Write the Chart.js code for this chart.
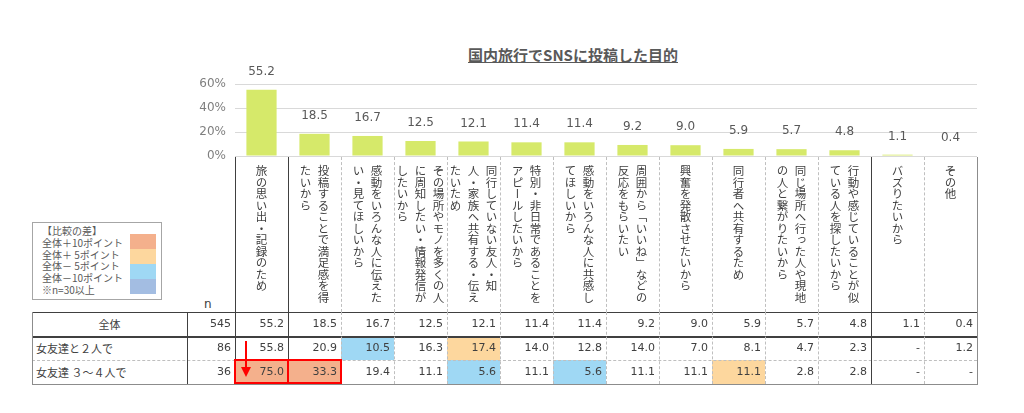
<!DOCTYPE html>
<html lang="ja">
<head>
<meta charset="utf-8">
<title>国内旅行でSNSに投稿した目的</title>
<script src="https://cdn.jsdelivr.net/npm/chart.js@4.4.1/dist/chart.umd.min.js"></script>
<style>
  html, body { margin: 0; padding: 0; background: #fff; }
  #wrap {
    position: relative; width: 1024px; height: 413px; overflow: hidden;
    font-family: "DejaVu Sans", "Noto Sans CJK JP", sans-serif; color: #404040;
  }
  #title {
    position: absolute; left: 373px; top: 46px; width: 400px; text-align: center;
    font: bold 15px "Noto Sans CJK JP", sans-serif; color: #595959;
    text-decoration: underline; line-height: 18px;
  }
  #chartBox { position: absolute; left: 170px; top: 50px; width: 810px; height: 140px; }
  .head {
    position: absolute; top: 157px; height: 155px; width: 53px;
    display: flex; justify-content: center; align-items: flex-start;
  }
  .head div {
    writing-mode: vertical-rl; white-space: pre; margin-top: 8px;
    font: 11.5px/18px "Noto Sans CJK JP", sans-serif; color: #404040;
  }
  .cell {
    position: absolute; height: 24px; line-height: 24px; font-size: 11px;
    box-sizing: border-box; padding: 0 4px; text-align: right; white-space: nowrap;
  }
  .rowlabel { font-family: "Noto Sans CJK JP", sans-serif; text-align: left; }
  .line { position: absolute; }
  #legend {
    position: absolute; left: 32px; top: 222px; width: 130px; height: 78px;
    border: 1px solid #a6a6a6; box-sizing: border-box; background: #fff;
    font: 10px/11.8px "Noto Sans CJK JP", sans-serif; color: #595959;
  }
  #legend .txt { position: absolute; left: 9px; top: 2px; white-space: pre; }
  #legend .sw { position: absolute; left: 97px; width: 26px; height: 15px; }
  #nlabel { position: absolute; left: 204px; top: 297px; font-size: 12px; color: #404040; }
</style>
</head>
<body>
<div id="wrap">
  <div id="title">国内旅行でSNSに投稿した目的</div>
  <div id="chartBox"><canvas id="purposeChart"></canvas></div>
  <div id="legend"></div>
  <div id="nlabel">n</div>
</div>
<script>
const categories = [
  "旅の思い出・記録のため",
  "投稿することで満足感を得\nたいから",
  "感動をいろんな人に伝えた\nい・見てほしいから",
  "その場所やモノを多くの人\nに周知したい・情報発信が\nしたいから",
  "同行していない友人・知\n人・家族へ共有する・伝え\nたいため",
  "特別・非日常であることを\nアピールしたいから",
  "感動をいろんな人に共感し\nてほしいから",
  "周囲から「いいね」などの\n反応をもらいたい",
  "興奮を発散させたいから",
  "同行者へ共有するため",
  "同じ場所へ行った人や現地\nの人と繋がりたいから",
  "行動や感じていることが似\nている人を探したいから",
  "バズりたいから",
  "その他"
];
const totalValues = [55.2, 18.5, 16.7, 12.5, 12.1, 11.4, 11.4, 9.2, 9.0, 5.9, 5.7, 4.8, 1.1, 0.4];
const twoFriendsValues = [55.8, 20.9, 10.5, 16.3, 17.4, 14.0, 12.8, 14.0, 7.0, 8.1, 4.7, 2.3, null, 1.2];
const groupFriendsValues = [75.0, 33.3, 19.4, 11.1, 5.6, 11.1, 5.6, 11.1, 11.1, 11.1, 2.8, 2.8, null, null];
const rowLabels = ["全体", "女友達と２人で", "女友達 ３～４人で"];
const rowCounts = [545, 86, 36];
const yTicks = [0, 20, 40, 60];

const wrap = document.getElementById("wrap");
const colLeft = 235;
const colW = 53;
const colX = categories.map((c, i) => colLeft + colW * i);
const tableRight = colLeft + colW * categories.length;

// Bar labels above each bar
const barLabels = {
  id: "barLabels",
  afterDatasetsDraw(chart) {
    const ctx = chart.ctx;
    const meta = chart.getDatasetMeta(0);
    ctx.save();
    ctx.font = "12px 'DejaVu Sans'";
    ctx.fillStyle = "#595959";
    ctx.textAlign = "center";
    ctx.textBaseline = "middle";
    meta.data.forEach((bar, i) => {
      ctx.fillText(totalValues[i].toFixed(1), bar.x, bar.y - 18);
    });
    ctx.restore();
  },
};

new Chart(document.getElementById("purposeChart"), {
  type: "bar",
  data: {
    labels: categories,
    datasets: [
      {
        label: "全体",
        data: totalValues,
        backgroundColor: "#d6e96a",
        categoryPercentage: 1,
        barPercentage: 0.57,
      },
    ],
  },
  options: {
    responsive: true,
    maintainAspectRatio: false,
    animation: false,
    layout: { padding: { top: 34, right: 3, bottom: 34, left: 0 } },
    plugins: { legend: { display: false }, tooltip: { enabled: false } },
    scales: {
      x: { display: false },
      y: {
        min: yTicks[0],
        max: yTicks[yTicks.length - 1],
        afterFit: (scale) => { scale.width = 65; },
        afterBuildTicks: (scale) => { scale.ticks = yTicks.map((v) => ({ value: v })); },
        ticks: {
          callback: (v) => v + "%",
          color: "#7f7f7f",
          font: { family: "DejaVu Sans", size: 12 },
          padding: 9,
        },
        grid: { color: "#d9d9d9", drawTicks: false },
        border: { display: false },
      },
    },
  },
  plugins: [barLabels],
});

// Lines
function hline(x1, x2, y, style) {
  const d = document.createElement("div");
  d.className = "line";
  d.style.left = x1 + "px";
  d.style.top = y + "px";
  d.style.width = x2 - x1 + "px";
  d.style.borderTop = style;
  wrap.appendChild(d);
}
function vline(x, y1, y2, style) {
  const d = document.createElement("div");
  d.className = "line";
  d.style.left = x + "px";
  d.style.top = y1 + "px";
  d.style.height = y2 - y1 + "px";
  d.style.borderLeft = style;
  wrap.appendChild(d);
}

const solidDark = "1px solid #404040";
const solidGray = "1px solid #8c8c8c";
const dashed = "1px dashed #bfbfbf";

// Header cells (vertical text)
categories.forEach((c, i) => {
  const h = document.createElement("div");
  h.className = "head";
  h.style.left = colX[i] + "px";
  const t = document.createElement("div");
  t.textContent = c;
  h.appendChild(t);
  wrap.appendChild(h);
});

const rowTop = [312, 336, 360];
const rowValues = [totalValues, twoFriendsValues, groupFriendsValues];

function diffColor(v, base) {
  if (v == null) return null;
  const d = v - base;
  if (d >= 10) return "#f4b08c";
  if (d >= 5) return "#fdd79e";
  if (d <= -10) return "#a3bde2";
  if (d <= -5) return "#9fd8f4";
  return null;
}

function addCell(x, y, w, text, cls, bg) {
  const d = document.createElement("div");
  d.className = "cell" + (cls ? " " + cls : "");
  d.style.left = x + "px";
  d.style.top = y + "px";
  d.style.width = w + "px";
  d.textContent = text;
  if (bg) d.style.background = bg;
  wrap.appendChild(d);
  return d;
}

rowLabels.forEach((label, r) => {
  const y = rowTop[r];
  const lc = addCell(32, y, 155, label, "rowlabel");
  if (r === 0) lc.style.textAlign = "center";
  addCell(187, y, 48, String(rowCounts[r]));
  rowValues[r].forEach((v, i) => {
    const bg = r === 0 ? null : diffColor(v, totalValues[i]);
    addCell(colX[i], y, colW, v == null ? "-" : v.toFixed(1), "", bg);
  });
});

// Header vertical borders
colX.concat([tableRight]).forEach((x, i) => {
  let st = dashed;
  if (i === 0 || i === 1 || i === 12) st = solidDark;
  if (i === categories.length) st = solidGray;
  vline(x, 157, 312, st);
});

// Body borders
hline(32, tableRight, 312, solidDark);
hline(32, tableRight, 336, "2px solid #404040");
hline(32, tableRight, 360, dashed);
hline(32, tableRight + 1, 384, solidGray);
vline(32, 312, 385, solidGray);
vline(187, 312, 384, solidDark);
colX.concat([tableRight]).forEach((x, i) => {
  let st = dashed;
  if (i === 0 || i === 1 || i === 12) st = solidDark;
  if (i === categories.length) st = solidGray;
  vline(x, 312, 384, st);
});

// Red highlight boxes
[0, 1].forEach((i) => {
  const b = document.createElement("div");
  b.className = "line";
  b.style.left = colX[i] - 1 + "px";
  b.style.top = rowTop[2] - 1 + "px";
  b.style.width = colW + 2 + "px";
  b.style.height = 25 + "px";
  b.style.border = "2px solid #ff0000";
  b.style.boxSizing = "border-box";
  wrap.appendChild(b);
});

// Red arrow
const arrow = document.createElementNS("http://www.w3.org/2000/svg", "svg");
arrow.setAttribute("width", "14");
arrow.setAttribute("height", "40");
arrow.style.position = "absolute";
arrow.style.left = "239px";
arrow.style.top = "340px";
arrow.innerHTML =
  '<line x1="7" y1="1" x2="7" y2="28" stroke="#ff0000" stroke-width="2"/>' +
  '<polygon points="2,27 12,27 7,37" fill="#ff0000"/>';
wrap.appendChild(arrow);

// Legend box
const legend = document.getElementById("legend");
const legendText = document.createElement("div");
legendText.className = "txt";
legendText.textContent = "【比較の差】\n全体＋10ポイント\n全体＋ 5ポイント\n全体－ 5ポイント\n全体－10ポイント\n※n=30以上";
legend.appendChild(legendText);
["#f4b08c", "#fdd79e", "#9fd8f4", "#a3bde2"].forEach((c, i) => {
  const s = document.createElement("div");
  s.className = "sw";
  s.style.top = 11 + i * 15 + "px";
  s.style.background = c;
  legend.appendChild(s);
});
</script>
</body>
</html>
